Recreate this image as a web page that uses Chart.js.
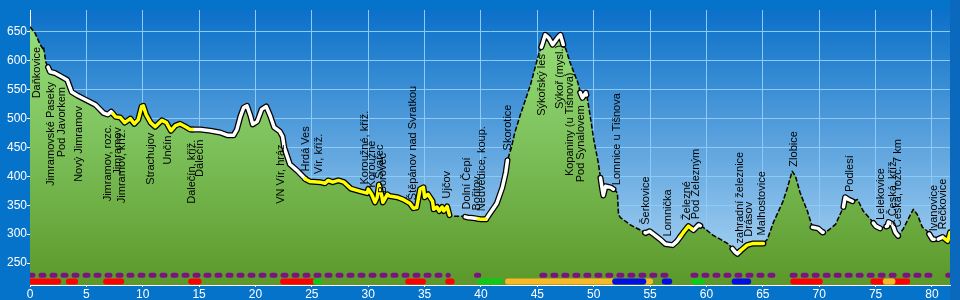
<!DOCTYPE html>
<html>
<head>
<meta charset="utf-8">
<script src="https://cdn.jsdelivr.net/npm/chart.js@4"></script>
<style>
  body { margin: 0; background: #0673cb; }
  #obal { width: 960px; height: 300px; }
</style>
</head>
<body>
<div id="obal"><canvas id="profil"></canvas></div>
<script>
// vyskovy profil trasy (km, m n. m.)
const profilKm = [0, 0.45, 0.9, 1.15, 1.2, 1.4, 1.78, 2.2, 2.85, 3.3, 3.7, 4.2, 4.9, 5.8, 6.5, 6.9, 7.2, 7.6, 8.0, 8.4, 8.9, 9.25, 9.6, 9.9, 10.05, 10.3, 10.7, 11.1, 11.7, 12.1, 12.5, 12.9, 13.3, 13.8, 14.2, 15.1, 16.0, 16.85, 17.55, 18.05, 18.35, 18.65, 18.95, 19.25, 19.55, 19.75, 20.15, 20.55, 20.95, 21.3, 21.65, 22.15, 22.4, 22.55, 23.05, 23.75, 24.45, 24.85, 25.75, 26.15, 26.45, 26.85, 27.35, 27.85, 28.45, 29.3, 29.9, 30.0, 30.3, 30.6, 30.8, 30.95, 31.2, 31.3, 31.7, 31.9, 32.55, 33.1, 33.7, 34.0, 34.3, 34.6, 34.9, 35.0, 35.3, 35.7, 35.8, 36.1, 36.3, 36.55, 36.7, 37.0, 37.2, 37.5, 38.4, 38.8, 39.3, 39.9, 40.5, 40.8, 41.4, 41.9, 42.2, 42.35, 42.7, 43.0, 43.5, 44.4, 45.1, 45.45, 45.7, 46.0, 46.35, 46.8, 47.05, 47.3, 47.5, 47.9, 48.6, 48.8, 49.0, 49.3, 49.45, 49.7, 50.0, 50.4, 50.75, 50.85, 51.05, 51.5, 51.9, 52.1, 52.2, 52.35, 53.25, 54.15, 54.6, 54.95, 55.3, 55.9, 56.35, 57.0, 57.4, 57.95, 58.4, 58.85, 59.3, 59.7, 60.6, 61.25, 61.95, 62.55, 62.75, 63.0, 63.6, 64.15, 65.05, 65.4, 65.95, 66.75, 67.15, 67.6, 67.9, 68.3, 68.95, 69.4, 69.9, 70.3, 70.7, 71.45, 72.15, 72.3, 72.6, 72.95, 73.4, 73.9, 74.55, 75.0, 75.4, 76.05, 76.15, 76.5, 76.75, 77.0, 77.45, 78.1, 78.35, 78.7, 79.15, 79.6, 80.05, 80.5, 80.95, 81.4, 81.6];
const profilVyska = [659, 648, 628, 621, 624, 598, 581, 579, 572, 567, 546, 540, 533, 524, 510, 507, 512, 503, 502, 493, 500, 491, 498, 521, 522, 507, 493, 486, 497, 493, 479, 488, 491, 486, 481, 481, 479, 476, 471, 471, 481, 503, 519, 522, 505, 490, 495, 516, 521, 505, 485, 478, 469, 450, 421, 409, 395, 391, 390, 388, 393, 390, 393, 390, 379, 374, 371, 378, 369, 355, 364, 386, 366, 355, 369, 366, 364, 360, 353, 345, 346, 378, 381, 364, 369, 357, 343, 347, 340, 347, 340, 348, 333, 331, 331, 329, 328, 326, 326, 336, 353, 381, 407, 428, 450, 476, 507, 559, 610, 629, 645, 640, 628, 640, 645, 628, 622, 597, 562, 545, 536, 545, 533, 503, 464, 424, 378, 367, 383, 381, 376, 371, 334, 329, 316, 307, 302, 305, 300, 291, 283, 281, 288, 303, 314, 307, 316, 312, 298, 291, 283, 269, 266, 271, 281, 284, 284, 291, 321, 355, 378, 409, 400, 372, 340, 312, 310, 303, 305, 317, 347, 364, 360, 357, 360, 340, 326, 314, 310, 314, 321, 317, 303, 297, 309, 334, 343, 334, 312, 305, 291, 291, 295, 288, 303];

// useky povrchu (zvyraznena cara)
const bileUseky = [[1.6, 7.35], [14.4, 24.4], [38.6, 39.75], [40.45, 42.35], [45.35, 47.3], [48.8, 49.35], [50.6, 51.75], [54.55, 57.7], [58.7, 59.45], [62.3, 63.0], [69.4, 70.35], [72.15, 72.95], [74.8, 75.4], [75.95, 77.0], [79.75, 80.2], [80.55, 80.95]];
const zluteUseky = [[7.35, 14.4], [24.4, 37.2], [39.75, 40.45], [57.7, 58.7], [63.0, 65.05], [81.1, 81.6]];

// pasy pod profilem
const fialoveUseky = [[0, 37.1], [39.6, 39.8], [45.4, 56.6], [58.8, 66.3], [67.6, 76.8], [77.6, 80.1], [81.4, 81.5]];
const cerveneUseky = [[0.1, 2.5], [3.45, 4.0], [6.75, 8.1], [14.3, 14.95], [22.45, 25.2], [33.55, 34.85], [37.1, 37.4], [67.7, 70.05], [74.8, 75.6], [76.7, 77.8]];
const zeleneUseky = [[25.35, 25.6], [39.95, 41.65], [58.95, 59.6]];
const oranzoveUseky = [[42.4, 51.7], [54.6, 55.0], [75.9, 76.5]];
const modreUseky = [[51.9, 54.4], [56.3, 56.7], [62.5, 63.7]];
const radekTecky = 229;
const radekPasy = 218;

// mista na trase
const mistaNazvy = ['Daňkovice', 'Jimramovské Paseky', 'Pod Javorkem', 'Nový Jimramov', 'Jimramov, rozc.', 'Jimramov', 'Jimramov, kříž.', 'Strachujov', 'Unčín', 'Dalečín, kříž.', 'Dalečín', 'VN Vír, hráz', 'Hrdá Ves', 'Vír, kříž.', 'Koroužné, kříž.', 'Koroužné', 'Švařec', 'Borovec', 'Štěpánov nad Svratkou', 'Ujčov', 'Dolní Čepí', 'Bořitov', 'Nedvědice, koup.', 'Skorotice', 'Sýkořský les', 'Sýkoř (mysl.)', 'Kopaniny (u Tišnova)', 'Pod Synalovem', 'Lomnice u Tišnova', 'Šerkovice', 'Lomnička', 'Železné', 'Pod Železným', 'zahradní železnice', 'Drásov', 'Malhostovice', 'Zlobice', 'Podlesí', 'Lelekovice', 'Česká, kříž.', 'Česká, rozc. 7 km', 'Ivanovice', 'Řečkovice'];
const mistaKm = [0.6, 1.85, 2.85, 4.3, 6.9, 7.8, 8.15, 10.7, 12.25, 14.35, 15.05, 22.3, 24.5, 25.65, 29.7, 30.35, 31.0, 31.35, 34.0, 37.0, 38.8, 39.6, 40.1, 42.4, 45.45, 47.05, 47.9, 48.9, 52.1, 54.65, 56.6, 58.25, 59.1, 62.95, 63.75, 64.95, 67.8, 72.7, 75.5, 76.5, 76.95, 80.15, 81.0];

const xTicks = [0, 5, 10, 15, 20, 25, 30, 35, 40, 45, 50, 55, 60, 65, 70, 75, 80];
const yTicks = [250, 300, 350, 400, 450, 500, 550, 600, 650];

const vyskaNa = km => {
    for (let i = 1; i < profilKm.length; i++) {
        if (km <= profilKm[i]) {
            const t = (km - profilKm[i - 1]) / (profilKm[i] - profilKm[i - 1]);
            return profilVyska[i - 1] + t * (profilVyska[i] - profilVyska[i - 1]);
        }
    }
    return profilVyska[profilVyska.length - 1];
}

const useky = ranges => {
    const out = [];
    ranges.forEach(([a, b]) => {
        out.push({x: a, y: vyskaNa(a)});
        profilKm.forEach((k, i) => { if (k > a && k < b) out.push({x: k, y: profilVyska[i]}); });
        out.push({x: b, y: vyskaNa(b)});
        out.push({x: b, y: null});
    });
    return out;
}

const pas = (ranges, lvl) => {
    const out = [];
    ranges.forEach(([a, b]) => {
        out.push({x: a, y: lvl}, {x: b, y: lvl}, {x: b, y: null});
    });
    return out;
}

const carova = (data, color, width, order, extra) => Object.assign({
    data: data,
    borderColor: color,
    borderWidth: width,
    pointRadius: 0,
    fill: false,
    borderCapStyle: 'round',
    borderJoinStyle: 'round',
    order: order
}, extra || {});

const pozadi = {
    id: 'pozadi',
    beforeDraw(chart) {
        const {ctx, chartArea: a, width, height} = chart;
        ctx.save();
        ctx.fillStyle = '#0673cb';
        ctx.fillRect(0, 0, width, height);
        ctx.fillStyle = '#0a69bd';
        ctx.fillRect(a.right, 0, width - a.right, height);
        const g = ctx.createLinearGradient(0, a.top, 0, a.bottom);
        g.addColorStop(0, '#0b70c8');
        g.addColorStop(1, '#b2d9f5');
        ctx.fillStyle = g;
        ctx.fillRect(a.left, a.top, a.right - a.left, a.bottom - a.top);
        ctx.restore();
    }
};

const popisky = {
    id: 'popisky',
    afterDatasetsDraw(chart) {
        const {ctx, scales: {x, y}} = chart;
        ctx.save();
        ctx.font = '11px "Liberation Sans", Arial, sans-serif';
        ctx.fillStyle = '#000';
        ctx.textBaseline = 'middle';
        mistaNazvy.forEach((name, i) => {
            const v = vyskaNa(mistaKm[i]);
            ctx.save();
            ctx.translate(x.getPixelForValue(mistaKm[i]), y.getPixelForValue(v));
            ctx.rotate(-Math.PI / 2);
            if (v > 450) {
                ctx.textAlign = 'right';
                ctx.fillText(name, -10, 0);
            } else {
                ctx.textAlign = 'left';
                ctx.fillText(name, 8, 0);
            }
            ctx.restore();
        });
        ctx.restore();
    }
};

const profilData = profilKm.map((k, i) => ({x: k, y: profilVyska[i]}));

new Chart('profil', {
    type: 'line',
    data: {
        datasets: [
            carova(profilData, '#000', 1.5, 20, {
                borderDash: [5, 2],
                borderCapStyle: 'butt',
                fill: 'start',
                backgroundColor: ctx => {
                    const {ctx: c, chartArea} = ctx.chart;
                    if (!chartArea) return '#78bc58';
                    const g = c.createLinearGradient(0, chartArea.top, 0, chartArea.bottom);
                    g.addColorStop(0, '#9ae27e');
                    g.addColorStop(0.5, '#7cc05a');
                    g.addColorStop(1, '#5c982a');
                    return g;
                }
            }),
            carova(useky(bileUseky), '#000', 6, 12),
            carova(useky(zluteUseky), '#000', 6, 11),
            carova(useky(bileUseky), '#fff', 3.5, 10),
            carova(useky(zluteUseky), '#ffff00', 3.5, 9),
            carova(pas(fialoveUseky, radekTecky), '#7a1480', 5, 5, {borderDash: [3, 8]}),
            carova(pas(cerveneUseky, radekPasy), '#ff0000', 6, 4),
            carova(pas(zeleneUseky, radekPasy), '#10c818', 6, 3),
            carova(pas(oranzoveUseky, radekPasy), '#f8b828', 6, 2),
            carova(pas(modreUseky, radekPasy), '#0010e0', 6, 1)
        ]
    },
    options: {
        responsive: true,
        maintainAspectRatio: false,
        animation: false,
        layout: {padding: {top: 10, right: 10, left: 0, bottom: 0}},
        plugins: {
            legend: {display: false},
            tooltip: {enabled: false}
        },
        scales: {
            x: {
                type: 'linear',
                min: 0,
                max: 81.6,
                afterBuildTicks: s => { s.ticks = xTicks.map(v => ({value: v})); },
                afterFit: s => { s.height = 15; },
                grid: {color: '#8ccaf8', tickColor: '#fff', tickLength: 2},
                border: {color: '#fff', width: 1},
                ticks: {color: '#fff', padding: 0, maxRotation: 0, font: {size: 12, family: '"Liberation Sans", Arial, sans-serif'}}
            },
            y: {
                min: 212,
                max: 688,
                afterBuildTicks: s => { s.ticks = yTicks.map(v => ({value: v})); },
                afterFit: s => { s.width = 30; },
                grid: {color: '#8ccaf8', tickColor: '#fff', tickLength: 3},
                border: {color: '#fff', width: 1},
                ticks: {color: '#fff', padding: 0, font: {size: 12, family: '"Liberation Sans", Arial, sans-serif'}}
            }
        }
    },
    plugins: [pozadi, popisky]
});
</script>
</body>
</html>
